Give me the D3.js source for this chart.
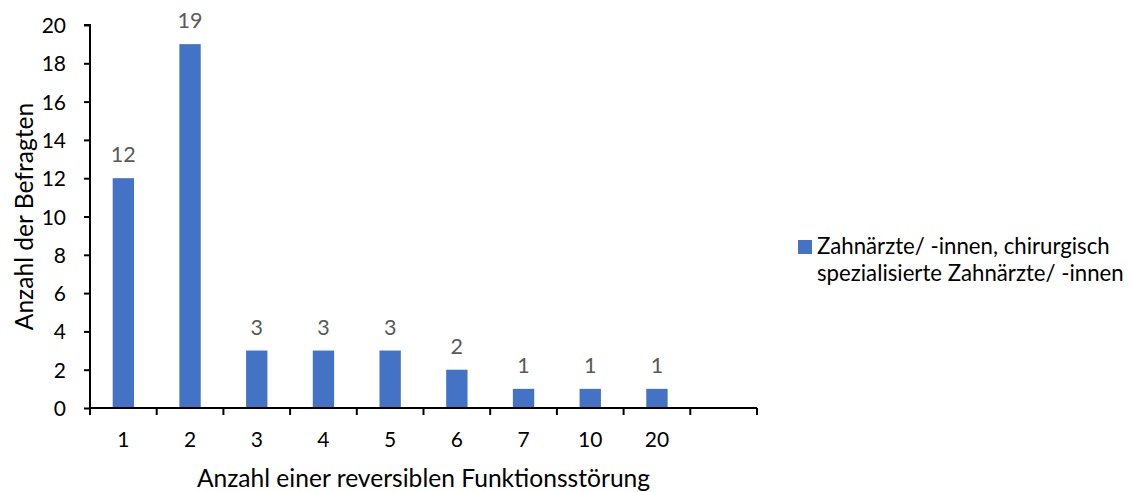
<!DOCTYPE html>
<html><head><meta charset="utf-8">
<script src="https://cdn.jsdelivr.net/npm/d3@7"></script>
<style>body{margin:0;background:#fff}svg{display:block}text{font-family:Lato,"Open Sans",sans-serif}</style>
</head><body><svg id="c" width="1132" height="492"></svg>
<script>
const categories = ["1","2","3","4","5","6","7","10","20",""];
const values = [12,19,3,3,3,2,1,1,1,null];
const yTicks = [0,2,4,6,8,10,12,14,16,18,20];
const seriesName = ["Zahnärzte/ -innen, chirurgisch","spezialisierte Zahnärzte/ -innen"];
const xTitle = "Anzahl einer reversiblen Funktionsstörung";
const yTitle = "Anzahl der Befragten";

const svg = d3.select("#c");
const mL = 90, mR = 757, mT = 25, mB = 408;
const x = d3.scaleBand().domain(categories).range([mL,mR]).paddingInner(0.68).paddingOuter(0.34);
const xb = d3.scaleBand().domain(categories).range([mL,mR]);
const y = d3.scaleLinear().domain([0,20]).range([mB,mT]);

// y axis
const ya = svg.append("g").attr("transform",`translate(${mL},0)`)
  .call(d3.axisLeft(y).tickValues(yTicks).tickSize(6).tickPadding(18));
ya.select(".domain").attr("stroke","#000").attr("stroke-width",2).attr("d",`M-6,${mT}H0V${mB}`);
ya.selectAll(".tick line").attr("stroke","#000").attr("stroke-width",2);
ya.selectAll(".tick text").attr("font-size",21).attr("fill","#000").attr("font-family","Lato").attr("dy","0.36em");

const pts = categories.map((c,i)=>({c,v:values[i]})).filter(d=>d.v!=null);
// bars
svg.append("g").selectAll("rect").data(pts)
  .join("rect").attr("x",d=>x(d.c)).attr("width",x.bandwidth())
  .attr("y",d=>y(d.v)).attr("height",d=>y(0)-y(d.v)).attr("fill","#4472C4");

// labels
svg.append("g").selectAll("text").data(pts)
  .join("text").attr("x",d=>x(d.c)+x.bandwidth()/2).attr("y",d=>y(d.v)-16)
  .attr("text-anchor","middle").attr("font-size",21.5).attr("fill","#595959").text(d=>d.v);

// x axis
const xa = svg.append("g").attr("transform",`translate(0,${mB})`);
xa.append("line").attr("x1",mL-1).attr("x2",mR).attr("stroke","#000").attr("stroke-width",2);
const bounds = categories.map(c=>xb(c)).concat([mR]);
xa.selectAll("line.t").data(bounds).join("line").attr("class","t")
  .attr("x1",d=>d).attr("x2",d=>d).attr("y1",0).attr("y2",7).attr("stroke","#000").attr("stroke-width",2);
xa.selectAll("text").data(categories).join("text")
  .attr("x",d=>xb(d)+xb.bandwidth()/2).attr("y",39).attr("text-anchor","middle")
  .attr("font-size",21).attr("fill","#000").text(d=>d);

// titles
svg.append("text").attr("x",(mL+mR)/2).attr("y",487).attr("text-anchor","middle")
  .attr("font-size",24.6).attr("fill","#000").text(xTitle);
svg.append("text").attr("transform",`translate(33,${(mT+mB)/2}) rotate(-90)`).attr("text-anchor","middle")
  .attr("font-size",24.6).attr("fill","#000").text(yTitle);

// legend
svg.append("rect").attr("x",798).attr("y",240).attr("width",14).attr("height",14).attr("fill","#4472C4");
svg.append("text").attr("font-size",22.2).attr("fill","#000").selectAll("tspan").data(seriesName).join("tspan")
  .attr("x",817).attr("y",(d,i)=>254+i*27).text(d=>d);
</script></body></html>
